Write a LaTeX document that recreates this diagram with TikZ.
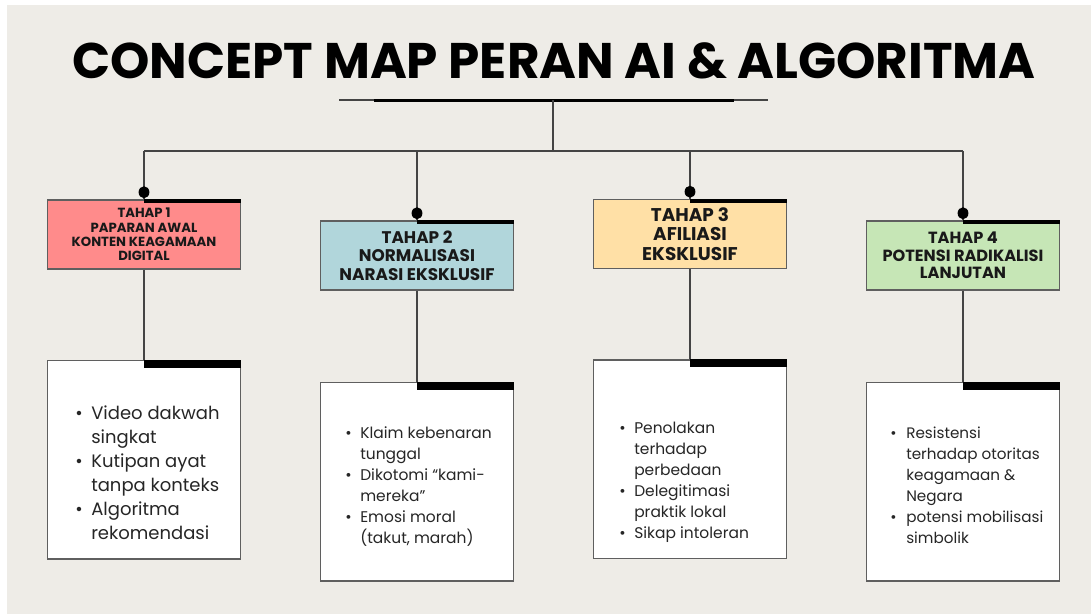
\documentclass[tikz,border=0pt]{standalone}
\usepackage{fontspec}
\setmainfont{Poppins}
\usetikzlibrary{positioning,shapes.geometric}
\definecolor{paper}{HTML}{EEECE7}
\definecolor{rosefill}{HTML}{FF8B8B}
\definecolor{bluefill}{HTML}{B1D6DB}
\definecolor{sandfill}{HTML}{FFE0A6}
\definecolor{leaffill}{HTML}{C6E6B6}
\definecolor{frame}{HTML}{5F5F5F}
\definecolor{ink}{HTML}{444444}
\newcommand{\itemtab}[2]{\begin{tabular}[t]{@{}p{#1}@{}l@{}}#2\end{tabular}}

\begin{document}
\begin{tikzpicture}[x=0.25mm,y=-0.25mm,
 stage/.style={draw=frame,line width=1.1pt,minimum width=48.25mm,minimum height=17.25mm,align=center,inner sep=0pt,text=black!90},
 detail/.style={draw=frame,fill=white,line width=1.1pt,minimum width=48.25mm,minimum height=49.6mm,inner sep=0pt},
 points/.style={anchor=base west,inner sep=0pt,text=black!85},
 link/.style={ink,line width=1pt},
 knob/.style={ellipse,fill=black,minimum width=2.7mm,minimum height=3mm,inner sep=0pt},
 title/.style={font=\bfseries\fontsize{35.6}{40}\selectfont}]
 \fill[paper] (7,5) rectangle (1091,614);
 \useasboundingbox (0,0) rectangle (1091,614);
 \node[title] (head) at (554,61) {CONCEPT MAP PERAN AI \& ALGORITMA};
 \draw[ink,line width=0.35mm] (339,100) -- (768,100);
 \draw[black,line width=0.75mm] (374,100) -- (734,100);
 \coordinate (rule) at (553,100); \coordinate (bus) at (553,151);
 % the four stages
 \node[stage,fill=rosefill,font=\bfseries\fontsize{9.4}{10.2}\selectfont] (s1) at (144,234.5)
  {TAHAP 1\\PAPARAN AWAL\\KONTEN KEAGAMAAN\\DIGITAL};
 \node[stage,fill=bluefill,font=\bfseries\fontsize{12}{13}\selectfont] (s2) at (417,255.5)
  {TAHAP 2\\NORMALISASI\\NARASI EKSKLUSIF};
 \node[stage,fill=sandfill,font=\bfseries\fontsize{13.1}{14}\selectfont] (s3) at (690,234)
  {TAHAP 3\\AFILIASI\\EKSKLUSIF};
 \node[stage,fill=leaffill,font=\bfseries\fontsize{11.5}{12.4}\selectfont] (s4) at (963,255.5)
  {TAHAP 4\\POTENSI RADIKALISI\\LANJUTAN};
 \node[detail,below=22.5mm of s1] (d1) {}; \node[detail,below=22.75mm of s2] (d2) {};
 \node[detail,below=22.5mm of s3] (d3) {}; \node[detail,below=22.75mm of s4] (d4) {};
 % connectors
 \draw[link] (rule) -- (bus); \draw[link] (s1.north |- bus) -- (s4.north |- bus);
 \draw[link] (s1.north |- bus) -- (s1.north); \draw[link] (s2.north |- bus) -- (s2.north);
 \draw[link] (s3.north |- bus) -- (s3.north); \draw[link] (s4.north |- bus) -- (s4.north);
 \draw[link] (s1.south) -- (d1.north); \draw[link] (s2.south) -- (d2.north);
 \draw[link] (s3.south) -- (d3.north); \draw[link] (s4.south) -- (d4.north);
 \node[knob] (k1) at ([yshift=1.75mm]s1.north) {}; \node[knob] (k2) at ([yshift=1.75mm]s2.north) {};
 \node[knob] (k3) at ([yshift=1.75mm]s3.north) {}; \node[knob] (k4) at ([yshift=1.75mm]s4.north) {};
 \fill (s1.north) rectangle ([yshift=-1mm]s1.north east); \fill (s2.north) rectangle ([yshift=-1mm]s2.north east);
 \fill (s3.north) rectangle ([yshift=-1mm]s3.north east); \fill (s4.north) rectangle ([yshift=-1mm]s4.north east);
 \fill (d1.north) rectangle ([yshift=-2mm]d1.north east); \fill (d2.north) rectangle ([yshift=-2mm]d2.north east);
 \fill (d3.north) rectangle ([yshift=-2mm]d3.north east); \fill (d4.north) rectangle ([yshift=-2mm]d4.north east);
 % bullet texts
 \node[points,font=\fontsize{12.8}{17}\selectfont] (t1) at (75,419.5)
  {\itemtab{4mm}{•&Video dakwah\\&singkat\\•&Kutipan ayat\\&tanpa konteks\\•&Algoritma\\&rekomendasi}};
 \node[points,font=\fontsize{11}{15}\selectfont] (t2) at (345,438.5)
  {\itemtab{3.75mm}{•&Klaim kebenaran\\&tunggal\\•&Dikotomi “kami-\\&mereka”\\•&Emosi moral\\&(takut, marah)}};
 \node[points,font=\fontsize{11}{15}\selectfont] (t3) at (619,433.5)
  {\itemtab{3.75mm}{•&Penolakan\\&terhadap\\&perbedaan\\•&Delegitimasi\\&praktik lokal\\•&Sikap intoleran}};
 \node[points,font=\fontsize{10.8}{15}\selectfont] (t4) at (890,438.5)
  {\itemtab{4mm}{•&Resistensi\\&terhadap otoritas\\&keagamaan \&\\&Negara\\•&potensi mobilisasi\\&simbolik}};
\end{tikzpicture}
\end{document}
